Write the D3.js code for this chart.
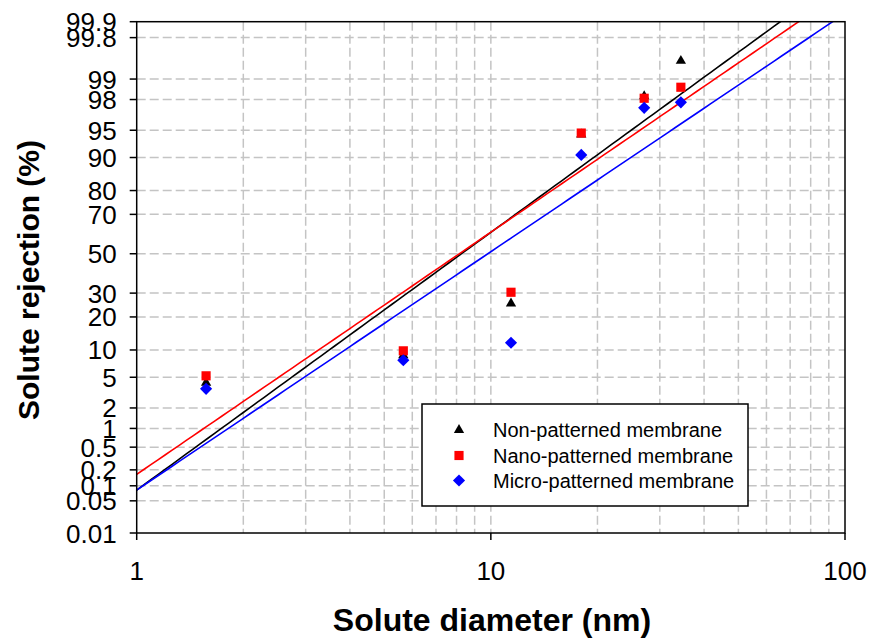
<!DOCTYPE html>
<html><head><meta charset="utf-8">
<script src="https://cdn.jsdelivr.net/npm/d3@7"></script>
<style>body{margin:0;background:#fff}svg{display:block}</style>
</head><body><svg id="c" width="871" height="642"></svg>
<script>
// ---- data ----
const diameters = [1.57, 5.66, 11.4, 18.0, 27.1, 34.4];
const nonPatterned = [4.3, 8.8, 25.4, 94.4, 98.2, 99.49];
const nanoPatterned = [5.2, 9.8, 30.4, 94.6, 98.08, 98.67];
const microPatterned = [3.6, 7.8, 11.8, 90.6, 97.4, 97.81];
const seriesNames = ["Non-patterned membrane", "Nano-patterned membrane", "Micro-patterned membrane"];
const seriesColors = ["#000000", "#ff0000", "#0000ff"];
const seriesSymbols = ["triangle", "square", "diamond"];
// probit trend lines: z = intercept + slope * log10(diameter)
const trendIntercepts = [-3.147, -2.938, -3.147];
const trendSlopes = [3.432, 3.225, 3.174];
const yTicks = [0.01, 0.05, 0.1, 0.2, 0.5, 1, 2, 5, 10, 20, 30, 50, 70, 80, 90, 95, 98, 99, 99.8, 99.9];
const yTickLabels = ["0.01", "0.05", "0.1", "0.2", "0.5", "1", "2", "5", "10", "20", "30", "50", "70", "80", "90", "95", "98", "99", "99.8", "99.9"];
const xTicks = [1, 10, 100];
const xGrid = [2, 3, 4, 5, 6, 7, 8, 9, 10, 20, 30, 40, 50, 60, 70, 80, 90];

// ---- inverse normal CDF (Acklam) ----
function probit(p) {
  const a = [-3.969683028665376e+01, 2.209460984245205e+02, -2.759285104469687e+02, 1.383577518672690e+02, -3.066479806614716e+01, 2.506628277459239e+00];
  const b = [-5.447609879822406e+01, 1.615858368580409e+02, -1.556989798598866e+02, 6.680131188771972e+01, -1.328068155288572e+01];
  const c = [-7.784894002430293e-03, -3.223964580411365e-01, -2.400758277161838e+00, -2.549732539343734e+00, 4.374664141464968e+00, 2.938163982698783e+00];
  const d = [7.784695709041462e-03, 3.224671290700398e-01, 2.445134137142996e+00, 3.754408661907416e+00];
  const pl = 0.02425, ph = 1 - pl;
  let q, r;
  if (p < pl) { q = Math.sqrt(-2 * Math.log(p));
    return (((((c[0]*q+c[1])*q+c[2])*q+c[3])*q+c[4])*q+c[5]) / ((((d[0]*q+d[1])*q+d[2])*q+d[3])*q+1); }
  if (p <= ph) { q = p - 0.5; r = q*q;
    return (((((a[0]*r+a[1])*r+a[2])*r+a[3])*r+a[4])*r+a[5])*q / (((((b[0]*r+b[1])*r+b[2])*r+b[3])*r+b[4])*r+1); }
  q = Math.sqrt(-2 * Math.log(1 - p));
  return -(((((c[0]*q+c[1])*q+c[2])*q+c[3])*q+c[4])*q+c[5]) / ((((d[0]*q+d[1])*q+d[2])*q+d[3])*q+1);
}

const L = 136.7, R = 845, T = 21.7, B = 533;
const svg = d3.select("#c");
svg.append("rect").attr("width", 871).attr("height", 642).attr("fill", "#fff");

const x = d3.scaleLog().domain([1, 100]).range([L, R]);
const zScale = d3.scaleLinear().domain([probit(0.0001), probit(0.999)]).range([B, T]);
const y = v => zScale(probit(v / 100));

const font = "Arial, 'Liberation Sans', sans-serif";

// grid
const grid = svg.append("g").attr("stroke", "#c4c4c4").attr("stroke-width", 1.5).attr("stroke-dasharray", "9,4");
grid.selectAll(".h").data(yTicks.filter(v => v > 0.01 && v < 99.9)).join("line")
  .attr("x1", L).attr("x2", R).attr("y1", d => y(d)).attr("y2", d => y(d));
grid.selectAll(".v").data(xGrid).join("line")
  .attr("x1", d => x(d)).attr("x2", d => x(d)).attr("y1", T).attr("y2", B);

// clip
svg.append("clipPath").attr("id", "clip").append("rect").attr("x", L).attr("y", T).attr("width", R - L).attr("height", B - T);

// trend lines
const samples = d3.range(0, 2.0001, 0.02).map(v => Math.pow(10, v));
const lineGen = d3.line().x(d => x(d[0])).y(d => zScale(d[1]));
seriesNames.forEach((n, i) => {
  svg.append("path").attr("clip-path", "url(#clip)")
    .datum(samples.map(s => [s, trendIntercepts[i] + trendSlopes[i] * Math.log10(s)]))
    .attr("d", lineGen).attr("fill", "none").attr("stroke", seriesColors[i]).attr("stroke-width", 1.6);
});

// frame & axes
svg.append("rect").attr("x", L).attr("y", T).attr("width", R - L).attr("height", B - T)
  .attr("fill", "none").attr("stroke", "#000").attr("stroke-width", 1.5);

const yAxis = svg.append("g").attr("transform", `translate(${L},0)`);
yAxis.selectAll("line").data(yTicks).join("line")
  .attr("x1", -7).attr("x2", 0).attr("y1", d => y(d)).attr("y2", d => y(d)).attr("stroke", "#000").attr("stroke-width", 1.5);
yAxis.selectAll("text").data(yTicks).join("text")
  .attr("x", -20).attr("y", d => y(d) + 9.5).attr("text-anchor", "end")
  .attr("font-family", font).attr("font-size", 26).attr("fill", "#000")
  .text((d, i) => yTickLabels[i]);

const xAxis = svg.append("g").attr("transform", `translate(0,${B})`);
xAxis.selectAll("line").data(xTicks).join("line")
  .attr("x1", d => x(d)).attr("x2", d => x(d)).attr("y1", 0).attr("y2", 7).attr("stroke", "#000").attr("stroke-width", 1.5);
xAxis.selectAll("text").data(xTicks).join("text")
  .attr("x", d => x(d)).attr("y", 47).attr("text-anchor", "middle")
  .attr("font-family", font).attr("font-size", 26).attr("fill", "#000")
  .text(d => d3.format("d")(d));

// axis titles
svg.append("text").attr("x", 492).attr("y", 631).attr("text-anchor", "middle")
  .attr("font-family", font).attr("font-weight", "bold").attr("font-size", 32).text("Solute diameter (nm)");
svg.append("text").attr("transform", "translate(39,280) rotate(-90)").attr("text-anchor", "middle")
  .attr("font-family", font).attr("font-weight", "bold").attr("font-size", 30).text("Solute rejection (%)");

// markers
function sym(kind) {
  if (kind === "triangle") return d3.symbol().type(d3.symbolTriangle).size(46)();
  if (kind === "square") return d3.symbol().type(d3.symbolSquare).size(84)();
  return d3.symbol().type(d3.symbolSquare).size(74)();
}
const allSeries = [nonPatterned, nanoPatterned, microPatterned];
allSeries.forEach((vals, i) => {
  svg.append("g").selectAll("path").data(vals).join("path")
    .attr("d", sym(seriesSymbols[i]))
    .attr("transform", (d, j) => `translate(${x(diameters[j])},${y(d)})` + (seriesSymbols[i] === "diamond" ? " rotate(45)" : ""))
    .attr("fill", seriesColors[i]);
});

// legend
const lg = svg.append("g");
lg.append("rect").attr("x", 422).attr("y", 404).attr("width", 326).attr("height", 102)
  .attr("fill", "#fff").attr("stroke", "#000").attr("stroke-width", 1.5);
const legY = [430, 455.5, 480.5];
seriesNames.forEach((n, i) => {
  lg.append("path").attr("d", sym(seriesSymbols[i]))
    .attr("transform", `translate(459,${legY[i]})` + (seriesSymbols[i] === "diamond" ? " rotate(45)" : ""))
    .attr("fill", seriesColors[i]);
  lg.append("text").attr("x", 493).attr("y", legY[i] + 7).attr("font-family", font).attr("font-size", 20).text(n);
});
</script></body></html>
